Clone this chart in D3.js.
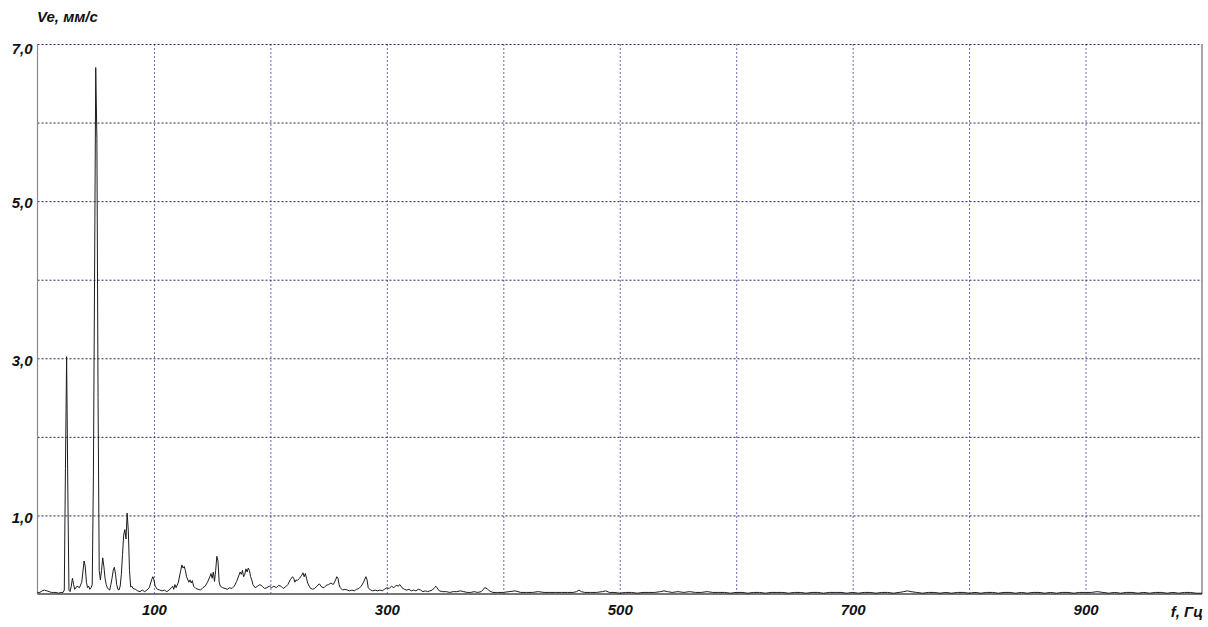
<!DOCTYPE html>
<html>
<head>
<meta charset="utf-8">
<script src="https://cdn.jsdelivr.net/npm/d3@7/dist/d3.min.js"></script>
<style>
  html, body { margin: 0; padding: 0; background: #fff; }
  svg { display: block; }
  .lbl { font-family: "Liberation Sans", Arial, sans-serif; font-weight: bold; font-style: italic; font-size: 15px; fill: #111; }
</style>
</head>
<body>
<svg id="chart" width="1208" height="627"></svg>
<script>
// Vibration velocity spectrum: frequency (Hz) and RMS velocity (mm/s)
const freqs = [
  0, 2, 4, 6, 8, 10, 12, 14, 16, 18, 20, 22, 23, 24, 25, 26, 27, 28, 29, 30,
  31, 32, 34, 36, 38, 40, 41, 42, 43, 44, 45, 46, 47, 48, 49, 50, 51, 52, 53, 54,
  55, 56, 57, 58, 59, 60, 61, 62, 63, 64, 65, 66, 67, 68, 69, 70, 71, 72, 73, 74,
  75, 76, 77, 78, 79, 80, 81, 82, 84, 86, 88, 90, 92, 94, 96, 98, 99, 100, 101, 103,
  105, 107, 109, 111, 113, 115, 116, 117, 118, 119, 121, 123, 124, 125, 126, 127, 128, 130, 131, 132,
  133, 134, 136, 138, 140, 142, 144, 146, 148, 149, 150, 151, 152, 153, 154, 155, 156, 157, 159, 161,
  163, 165, 167, 169, 171, 173, 174, 175, 176, 177, 178, 179, 180, 181, 182, 183, 184, 185, 187, 189,
  191, 193, 195, 197, 199, 201, 203, 205, 207, 209, 211, 213, 215, 217, 219, 220, 221, 222, 223, 225,
  227, 228, 229, 230, 231, 232, 234, 236, 238, 240, 242, 244, 246, 248, 250, 252, 254, 256, 257, 258,
  259, 260, 262, 264, 266, 268, 270, 272, 274, 276, 278, 280, 282, 283, 284, 286, 288, 290, 292, 294,
  296, 298, 300, 302, 304, 306, 308, 310, 311, 313, 315, 317, 319, 321, 323, 325, 327, 329, 331, 333,
  335, 337, 339, 341, 342, 343, 345, 348, 351, 354, 357, 360, 363, 366, 369, 372, 375, 378, 381, 383,
  384, 386, 388, 391, 395, 400, 405, 410, 415, 420, 425, 430, 435, 440, 445, 450, 455, 460, 463, 465,
  467, 470, 475, 480, 485, 488, 491, 495, 500, 505, 510, 515, 520, 525, 530, 535, 538, 541, 545, 550,
  555, 560, 565, 570, 575, 580, 585, 590, 595, 600, 605, 610, 615, 620, 625, 630, 635, 640, 645, 650,
  655, 660, 665, 670, 675, 680, 685, 690, 695, 700, 705, 710, 715, 720, 725, 730, 735, 740, 744, 747,
  750, 755, 760, 765, 770, 775, 780, 785, 790, 795, 800, 805, 810, 815, 820, 825, 830, 835, 840, 845,
  850, 855, 860, 865, 870, 875, 880, 885, 890, 895, 900, 905, 910, 915, 920, 925, 930, 935, 940, 945,
  950, 955, 960, 965, 970, 975, 980, 985, 990, 995, 1000
];
const amps = [
  0.02, 0.02, 0.04, 0.05, 0.04, 0.03, 0.02, 0.02, 0.02, 0.01, 0.02, 0.02, 0.05, 1.60, 3.02, 1.40, 0.05, 0.03, 0.10, 0.20,
  0.12, 0.06, 0.10, 0.08, 0.15, 0.42, 0.35, 0.15, 0.08, 0.10, 0.06, 0.08, 0.12, 1.50, 4.00, 6.70, 5.80, 2.50, 0.30, 0.18,
  0.30, 0.46, 0.35, 0.20, 0.12, 0.08, 0.06, 0.05, 0.12, 0.20, 0.30, 0.34, 0.25, 0.12, 0.06, 0.05, 0.10, 0.25, 0.50, 0.75,
  0.82, 0.70, 1.03, 0.80, 0.30, 0.09, 0.10, 0.07, 0.06, 0.04, 0.03, 0.05, 0.03, 0.05, 0.08, 0.18, 0.22, 0.18, 0.10, 0.06,
  0.05, 0.04, 0.05, 0.03, 0.05, 0.08, 0.10, 0.06, 0.12, 0.08, 0.15, 0.30, 0.37, 0.33, 0.35, 0.30, 0.22, 0.15, 0.18, 0.14,
  0.17, 0.10, 0.07, 0.06, 0.05, 0.08, 0.10, 0.15, 0.22, 0.26, 0.20, 0.28, 0.16, 0.30, 0.48, 0.42, 0.15, 0.10, 0.08, 0.07,
  0.06, 0.08, 0.07, 0.10, 0.16, 0.24, 0.28, 0.25, 0.30, 0.22, 0.25, 0.32, 0.28, 0.33, 0.30, 0.22, 0.18, 0.12, 0.08, 0.10,
  0.12, 0.10, 0.07, 0.08, 0.10, 0.08, 0.10, 0.08, 0.11, 0.10, 0.07, 0.09, 0.12, 0.18, 0.22, 0.20, 0.15, 0.18, 0.17, 0.20,
  0.24, 0.27, 0.22, 0.26, 0.20, 0.14, 0.08, 0.06, 0.07, 0.10, 0.13, 0.09, 0.08, 0.11, 0.12, 0.14, 0.12, 0.18, 0.22, 0.20,
  0.12, 0.08, 0.05, 0.06, 0.05, 0.04, 0.05, 0.04, 0.06, 0.07, 0.10, 0.15, 0.22, 0.18, 0.08, 0.05, 0.04, 0.05, 0.04, 0.05,
  0.04, 0.06, 0.08, 0.07, 0.10, 0.08, 0.11, 0.10, 0.12, 0.08, 0.06, 0.05, 0.06, 0.04, 0.05, 0.04, 0.06, 0.05, 0.03, 0.04,
  0.03, 0.04, 0.05, 0.08, 0.10, 0.08, 0.04, 0.03, 0.03, 0.02, 0.03, 0.03, 0.04, 0.03, 0.02, 0.02, 0.03, 0.02, 0.03, 0.06,
  0.08, 0.07, 0.04, 0.02, 0.02, 0.02, 0.03, 0.04, 0.02, 0.02, 0.02, 0.03, 0.02, 0.02, 0.02, 0.02, 0.02, 0.02, 0.03, 0.05,
  0.03, 0.02, 0.02, 0.02, 0.03, 0.04, 0.02, 0.02, 0.01, 0.02, 0.02, 0.01, 0.02, 0.02, 0.02, 0.03, 0.04, 0.03, 0.02, 0.03,
  0.02, 0.03, 0.02, 0.02, 0.03, 0.02, 0.02, 0.02, 0.01, 0.02, 0.02, 0.01, 0.02, 0.02, 0.01, 0.02, 0.02, 0.02, 0.01, 0.02,
  0.02, 0.01, 0.02, 0.02, 0.01, 0.02, 0.02, 0.02, 0.01, 0.02, 0.01, 0.02, 0.02, 0.01, 0.02, 0.02, 0.01, 0.02, 0.03, 0.04,
  0.03, 0.02, 0.01, 0.02, 0.02, 0.01, 0.02, 0.01, 0.02, 0.02, 0.01, 0.02, 0.01, 0.02, 0.02, 0.01, 0.02, 0.02, 0.01, 0.02,
  0.01, 0.02, 0.02, 0.01, 0.02, 0.01, 0.02, 0.02, 0.01, 0.02, 0.02, 0.02, 0.03, 0.02, 0.01, 0.02, 0.01, 0.02, 0.02, 0.01,
  0.02, 0.01, 0.02, 0.02, 0.01, 0.02, 0.01, 0.02, 0.02, 0.01, 0.01
];

const xGrid = [100, 200, 300, 400, 500, 600, 700, 800, 900];
const yGrid = [1, 2, 3, 4, 5, 6, 7];
const xTickLabels = [100, 300, 500, 700, 900];
const yTickLabels = [1, 3, 5, 7];
const yTitle = "Ve, мм/с";
const xTitle = "f, Гц";

const svg = d3.select("#chart");
const plot = { left: 37.5, right: 1202, top: 44, bottom: 594 };

const x = d3.scaleLinear().domain([0, 1000]).range([plot.left, plot.right]);
const y = d3.scaleLinear().domain([0, 7]).range([plot.bottom, plot.top]);

// vertical dotted grid
svg.append("g")
  .attr("transform", `translate(0,${plot.top})`)
  .call(d3.axisBottom(x).tickValues(xGrid).tickSize(plot.bottom - plot.top).tickFormat(""))
  .call(g => g.select(".domain").remove())
  .call(g => g.selectAll("line").attr("stroke", "#6b6bb8").attr("stroke-dasharray", "2,2"));

// horizontal dotted grid
svg.append("g")
  .attr("transform", `translate(${plot.left},0)`)
  .call(d3.axisRight(y).tickValues(yGrid).tickSize(plot.right - plot.left).tickFormat(""))
  .call(g => g.select(".domain").remove())
  .call(g => g.selectAll("line").attr("stroke", "#25255e").attr("stroke-dasharray", "2,2"));

// plot frame: left, right and baseline
svg.append("line").attr("x1", plot.left).attr("x2", plot.left).attr("y1", plot.top).attr("y2", plot.bottom)
  .attr("stroke", "#8a8a8a").attr("stroke-width", 1.2);
svg.append("line").attr("x1", plot.right).attr("x2", plot.right).attr("y1", plot.top).attr("y2", plot.bottom)
  .attr("stroke", "#8a8a8a").attr("stroke-width", 1.5);
svg.append("line").attr("x1", plot.left).attr("x2", plot.right).attr("y1", plot.bottom).attr("y2", plot.bottom)
  .attr("stroke", "#4a4a4a").attr("stroke-width", 1.5);

// spectrum trace
const pts = freqs.map((f, i) => [f, amps[i]]);
svg.append("path")
  .datum(pts)
  .attr("fill", "none")
  .attr("stroke", "#1c1c1c")
  .attr("stroke-width", 1)
  .attr("d", d3.line().x(d => x(d[0])).y(d => y(d[1])));

// y tick labels
const fmt = v => d3.format(".1f")(v).replace(".", ",");
svg.append("g")
  .attr("transform", `translate(${plot.left},0)`)
  .call(d3.axisLeft(y).tickValues(yTickLabels).tickSize(0).tickPadding(5).tickFormat(fmt))
  .call(g => g.select(".domain").remove())
  .call(g => g.selectAll("text").attr("class", "lbl").attr("font-family", null).attr("font-size", null)
    .attr("dy", d => d === 7 ? "0.6em" : "0.45em"));

// x tick labels
svg.append("g")
  .attr("transform", `translate(0,${plot.bottom})`)
  .call(d3.axisBottom(x).tickValues(xTickLabels).tickSize(0).tickPadding(10).tickFormat(d3.format("d")))
  .call(g => g.select(".domain").remove())
  .call(g => g.selectAll("text").attr("class", "lbl").attr("font-family", null).attr("font-size", null));

// axis titles
svg.append("text").attr("class", "lbl").attr("x", 37).attr("y", 22).text(yTitle);
svg.append("text").attr("class", "lbl").attr("x", 1203).attr("y", 617).attr("text-anchor", "end").text(xTitle);
</script>
</body>
</html>
